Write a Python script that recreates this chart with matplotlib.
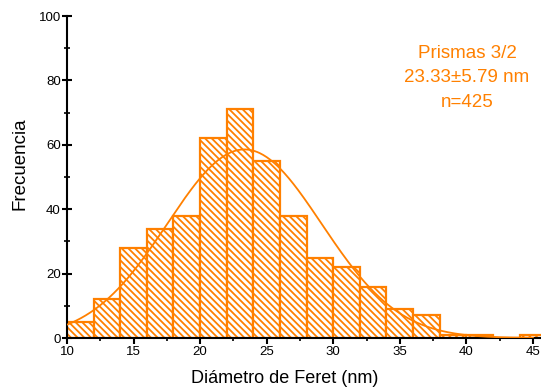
import numpy as np
import matplotlib
matplotlib.use("Agg")
import matplotlib.pyplot as plt
from matplotlib.ticker import MultipleLocator

plt.rcParams["font.family"] = ["Liberation Sans", "DejaVu Sans"]
plt.rcParams["hatch.linewidth"] = 1.3

# Histogram of Feret diameters, bin width 2 nm
bin_edges = np.arange(10, 48, 2)
counts = [5, 12, 28, 34, 38, 62, 71, 55, 38, 25, 22, 16, 9, 7, 1, 1, 0, 1]
mean_d = 23.33
std_d = 5.79
n_total = 425

orange = "#FF8000"

fig = plt.figure(figsize=(5.41, 3.91), dpi=100)
ax = fig.add_axes([0.1238, 0.1355, 0.876, 0.8235])

ax.bar(bin_edges[:-1], counts, width=2, align="edge", facecolor="white",
       edgecolor=orange, hatch="\\\\\\\\\\", linewidth=1.6, zorder=2)

# Gaussian fit scaled to counts per bin
xs = np.linspace(10, 45, 400)
fit = n_total * 2 / (std_d * np.sqrt(2 * np.pi)) * np.exp(-0.5 * ((xs - mean_d) / std_d) ** 2)
ax.plot(xs, fit, color=orange, linewidth=1.3, zorder=3)

ax.set_xlim(10, 45.6)
ax.set_ylim(0, 100)
ax.xaxis.set_major_locator(MultipleLocator(5))
ax.xaxis.set_minor_locator(MultipleLocator(2.5))
ax.yaxis.set_major_locator(MultipleLocator(20))
ax.yaxis.set_minor_locator(MultipleLocator(10))
ax.spines["top"].set_visible(False)
ax.spines["right"].set_visible(False)
ax.spines["left"].set_linewidth(1.5)
ax.spines["bottom"].set_linewidth(1.5)
ax.tick_params(axis="y", which="major", direction="inout", length=7, width=1.5,
               labelsize=9.5, pad=1)
ax.tick_params(axis="y", which="minor", direction="inout", length=4, width=1.2)
ax.tick_params(axis="x", which="major", direction="out", length=4, width=1.5,
               labelsize=9.5, pad=2)
ax.tick_params(axis="x", which="minor", direction="out", length=2, width=1.2)

ax.set_xlabel("Diámetro de Feret (nm)", fontsize=13)
ax.set_ylabel("Frecuencia", fontsize=13.5)
ax.xaxis.set_label_coords(0.46, -0.099)
ax.yaxis.set_label_coords(-0.082, 0.542)

ax.text(0.844, 0.808, "Prismas 3/2\n23.33±5.79 nm\nn=425", transform=ax.transAxes,
        ha="center", va="center", color=orange, fontsize=13.5, linespacing=1.55)

fig.savefig("out.png", dpi=100)
